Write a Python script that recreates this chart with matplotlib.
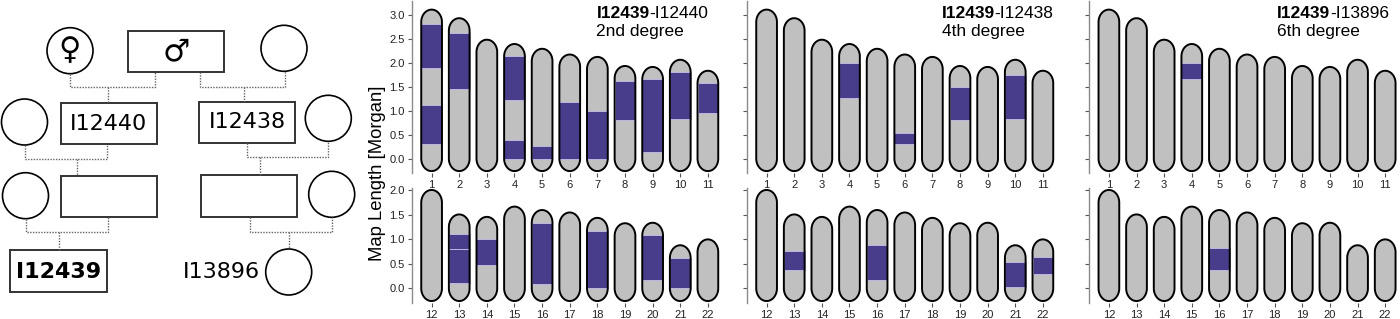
import numpy as np
import matplotlib

matplotlib.use("Agg")

import matplotlib.pyplot as plt
from matplotlib.patches import Circle, Polygon, Rectangle

plt.rcParams["font.family"] = ["Liberation Sans", "DejaVu Sans"]

# chromosome map lengths in Morgan (chr 1..22)
chrom_ids = list(range(1, 23))
chrom_lengths = [2.86, 2.68, 2.23, 2.14, 2.04, 1.92, 1.87, 1.68, 1.66, 1.81, 1.58,
                 1.75, 1.25, 1.20, 1.41, 1.34, 1.29, 1.18, 1.07, 1.08, 0.62, 0.74]

# shared IBD segments: (chromosome, start, end) in Morgan
segs_2nd = [(1, 1.89, 2.81), (1, 0.31, 1.12), (2, 1.46, 2.64), (4, 1.23, 2.14), (4, 0.0, 0.40),
            (5, 0.0, 0.26), (6, 0.0, 1.19), (7, 0.0, 0.99), (8, 0.81, 1.62), (9, 0.14, 1.67),
            (10, 0.83, 1.81), (11, 0.95, 1.58), (13, 0.10, 0.81), (13, 0.81, 1.12),
            (14, 0.48, 1.00), (16, 0.08, 1.34), (18, 0.01, 1.18), (20, 0.18, 1.08), (21, 0.01, 0.61)]
segs_4th = [(4, 1.26, 2.01), (6, 0.31, 0.54), (8, 0.81, 1.51), (10, 0.83, 1.76),
            (13, 0.37, 0.76), (16, 0.18, 0.89), (21, 0.02, 0.54), (22, 0.29, 0.63)]
segs_6th = [(4, 1.67, 2.01), (16, 0.37, 0.83)]

pairs = ["I12440", "I12438", "I13896"]
degrees = ["2nd degree", "4th degree", "6th degree"]
all_segs = [segs_2nd, segs_4th, segs_6th]

top_yticks = [0.0, 0.5, 1.0, 1.5, 2.0, 2.5, 3.0]
bottom_yticks = [0.0, 0.5, 1.0, 1.5, 2.0]

GREY = "#c0c0c0"
PURPLE = "#483d8b"
SPINE = "#8a8a8a"
W, H = 1400, 319


def capsule(xc, length, hw=0.375, cap=0.26):
    t1 = np.linspace(0, np.pi, 40)
    t2 = np.linspace(np.pi, 2 * np.pi, 40)
    xs = np.concatenate([xc + hw * np.cos(t1), xc + hw * np.cos(t2)])
    ys = np.concatenate([length + cap * np.sin(t1), cap * np.sin(t2)])
    return np.column_stack([xs, ys])


def draw_row(ax, chroms, segs, ylim, yticks, show_labels):
    hw = 0.375
    for pos, chrom in enumerate(chroms, start=1):
        length = chrom_lengths[chrom - 1]
        pts = capsule(pos, length, hw)
        ax.add_patch(Polygon(pts, closed=True, facecolor=GREY, edgecolor="none", zorder=1))
        for c, start, end in segs:
            if c == chrom:
                ax.add_patch(Rectangle((pos - hw, start), 2 * hw, end - start, facecolor=PURPLE,
                                       edgecolor="#bdb6e0", linewidth=0.7, zorder=2))
        ax.add_patch(Polygon(pts, closed=True, facecolor="none", edgecolor="black",
                             linewidth=1.4, zorder=3))
    ax.set_xlim(0.28, 11.5)
    ax.set_ylim(*ylim)
    ax.set_xticks(range(1, len(chroms) + 1))
    ax.set_xticklabels([str(c) for c in chroms])
    ax.set_yticks(yticks)
    if show_labels:
        ax.set_yticklabels([f"{v:.1f}" for v in yticks])
    else:
        ax.set_yticklabels([])
    for side in ["top", "right", "bottom"]:
        ax.spines[side].set_visible(False)
    ax.spines["left"].set_color(SPINE)
    ax.spines["left"].set_linewidth(1.0)
    ax.tick_params(axis="both", colors="#555555", labelcolor="#222222", labelsize=8,
                   length=3, width=0.8, pad=2)


fig = plt.figure(figsize=(W / 100, H / 100), dpi=100)

# --- chromosome panels ---
panel_left = [411.7, 746.7, 1089.0]
title_left = [596.5, 941.5, 1277.0]
panel_w = 310.0
for i in range(3):
    x0 = panel_left[i] / W
    ax_top = fig.add_axes([x0, (H - 173) / H, panel_w / W, 172 / H])
    ax_bot = fig.add_axes([x0, (H - 303) / H, panel_w / W, 115 / H])
    draw_row(ax_top, chrom_ids[:11], all_segs[i], (-0.3, 3.3), top_yticks, i == 0)
    draw_row(ax_bot, chrom_ids[11:], all_segs[i], (-0.3, 2.05), bottom_yticks, i == 0)

    tx = title_left[i] / W
    t1 = fig.text(tx, (H - 18.3) / H, "I12439", fontsize=12.5, fontweight="bold",
                  va="baseline", ha="left")
    ax_top.annotate("-" + pairs[i], xy=(1, 0), xycoords=t1, va="bottom", ha="left",
                    fontsize=12.5, annotation_clip=False)
    fig.text(tx, (H - 35.7) / H, degrees[i], fontsize=12.5, va="baseline", ha="left")

fig.text(377 / W, (H - 173.5) / H, "Map Length [Morgan]", rotation=90, fontsize=13.3,
         ha="center", va="center")

# --- pedigree ---
ped = fig.add_axes([0, 0, 360 / W, 1])
ped.set_xlim(0, 360)
ped.set_ylim(H, 0)
ped.axis("off")

R = 23
circles = [(70, 50.7), (284, 48.3), (24.5, 122), (328.3, 118.3), (25.5, 195.7),
           (331.7, 194.3), (288.7, 272)]
boxes = [(128, 31, 223.7, 72), (61, 102.7, 157, 144), (199, 101.7, 295, 142.7),
         (61, 175.7, 157, 216.7), (201.3, 175.3, 297.3, 216.7), (10.3, 250.3, 106.7, 291.7)]
connectors = [
    [(70, 73.7), (70, 87), (155, 87), (155, 72)], [(107.7, 87), (107.7, 102.7)],
    [(200, 72), (200, 87), (285, 87), (285, 71.3)], [(244, 87), (244, 101.7)],
    [(25, 145), (25, 159.3), (106.7, 159.3), (106.7, 144)], [(76.7, 159.3), (76.7, 175.7)],
    [(246.7, 142.7), (246.7, 156.7), (328.3, 156.7), (328.3, 141.3)], [(260, 156.7), (260, 175.3)],
    [(26, 218.7), (26, 232.3), (107.7, 232.3), (107.7, 216.7)], [(59.3, 232.3), (59.3, 250.3)],
    [(250, 216.7), (250, 232.3), (331.7, 232.3), (331.7, 217.3)], [(288.7, 232.3), (288.7, 249)],
]

for line in connectors:
    xs, ys = zip(*line)
    ped.plot(xs, ys, color="#666666", linestyle=(0, (1, 1)), linewidth=1.0)
for cx, cy in circles:
    ped.add_patch(Circle((cx, cy), R, facecolor="white", edgecolor="black", linewidth=1.2,
                         clip_on=False))
for bx0, by0, bx1, by1 in boxes:
    ped.add_patch(Rectangle((bx0, by0), bx1 - bx0, by1 - by0, facecolor="white",
                            edgecolor="#333333", linewidth=1.4))

ped.text(70, 51, "\u2640", fontsize=22, ha="center", va="center", family="DejaVu Sans")
ped.text(176, 52, "\u2642", fontsize=22, ha="center", va="center", family="DejaVu Sans")
ped.text(109, 124, "I12440", fontsize=16, ha="center", va="center", family="DejaVu Sans")
ped.text(247, 122, "I12438", fontsize=16, ha="center", va="center", family="DejaVu Sans")
ped.text(58.5, 271.5, "I12439", fontsize=16, ha="center", va="center", fontweight="bold",
         family="DejaVu Sans")
ped.text(260, 272.5, "I13896", fontsize=16, ha="right", va="center", family="DejaVu Sans")

fig.savefig("out.png", dpi=100)
